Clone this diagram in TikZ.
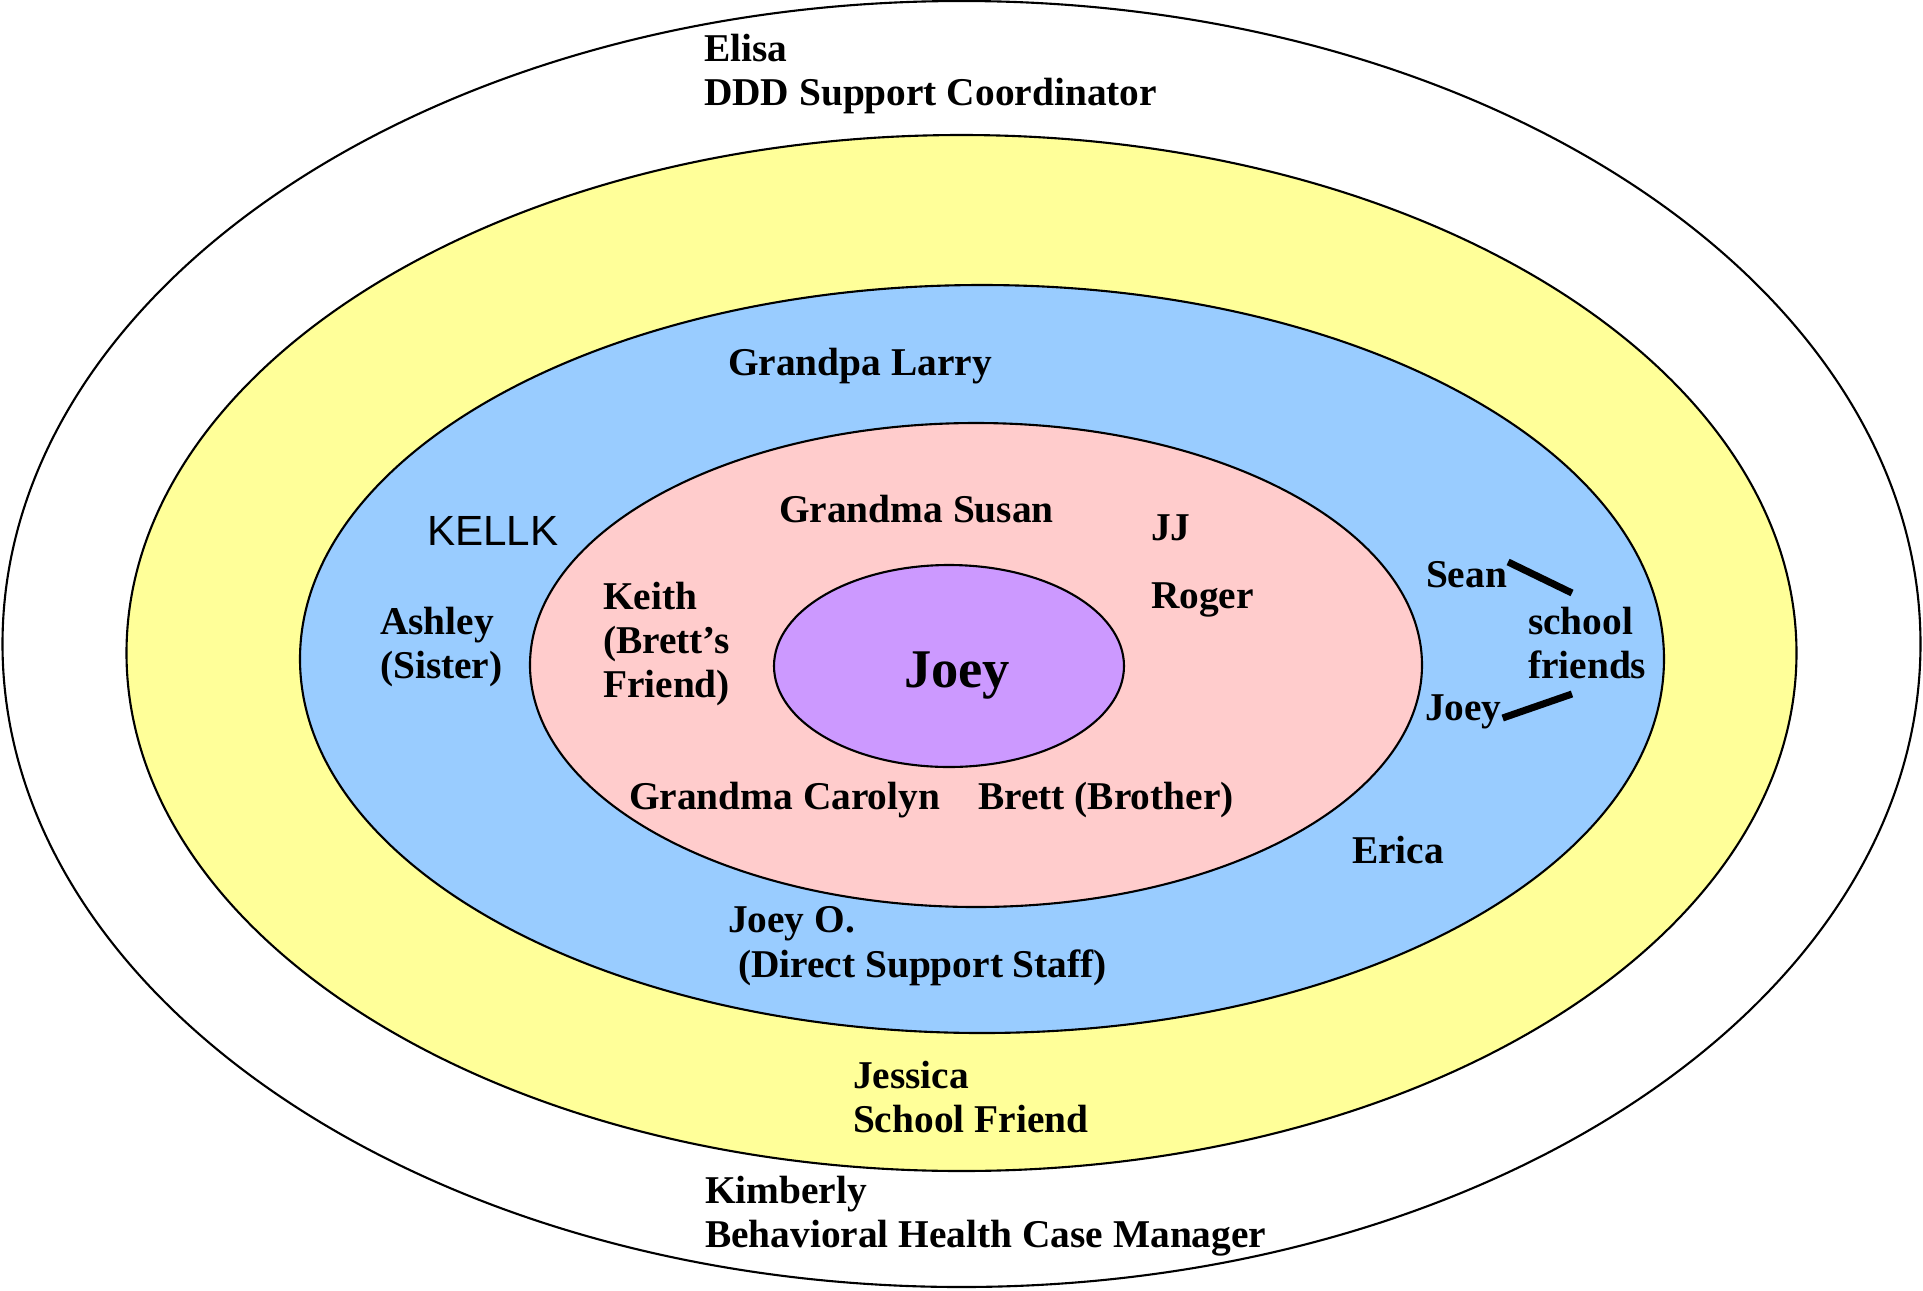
\documentclass[tikz,border=0pt]{standalone}
\usepackage{fontspec}
\setmainfont{Liberation Serif}
\setsansfont{Liberation Sans}
\usepackage{tikz}

\definecolor{outerring}{HTML}{FFFF99}
\definecolor{middlering}{HTML}{99CCFF}
\definecolor{innerring}{HTML}{FFCCCC}
\definecolor{selfring}{HTML}{CC99FF}

\begin{document}
\begin{tikzpicture}[x=0.01cm,y=-0.01cm,line width=0.6pt,
  font=\bfseries\fontsize{11.2}{12.6}\selectfont]
  \tikzstyle{ring}=[draw=black]
  \tikzstyle{person}=[inner sep=0pt,anchor=west,align=left]
  \tikzstyle{tie}=[line width=2pt]

  \useasboundingbox (0,0) rectangle (1923,1290);

  \draw[ring,fill=white]      (961.5,644) ellipse [x radius=959,y radius=643];
  \draw[ring,fill=outerring]  (961.5,653) ellipse [x radius=835,y radius=518];
  \draw[ring,fill=middlering] (982,659)   ellipse [x radius=682,y radius=374];
  \draw[ring,fill=innerring]  (976,665)   ellipse [x radius=446,y radius=242];
  \draw[ring,fill=selfring]   (949,666)   ellipse [x radius=175,y radius=101];

  \node (joey)     at (957,676) {\fontsize{15.5}{18}\selectfont Joey};

  \node[person] (elisa)    at (703,74)    {Elisa\\DDD Support Coordinator};
  \node[person] (larry)    at (727,366)   {Grandpa Larry};
  \node[person,font=\sffamily\fontsize{12}{14}\selectfont]
                (kellk)    at (426,531)   {KELLK};
  \node[person] (susan)    at (778,509)   {Grandma Susan};
  \node[person] (jj)       at (1150,528)  {JJ};
  \node[person] (keith)    at (602,644)   {Keith\\(Brett’s\\Friend)};
  \node[person] (roger)    at (1150,600)  {Roger};
  \node[person] (ashley)   at (379,647)   {Ashley\\(Sister)};
  \node[person] (sean)     at (1425,575)  {Sean};
  \node[person] (friends)  at (1527,643)  {school\\friends};
  \node[person] (joeyb)    at (1424,712)  {Joey};
  \node[person] (carolyn)  at (628,800)   {Grandma Carolyn};
  \node[person] (brett)    at (977,800)   {Brett (Brother)};
  \node[person] (erica)    at (1351,850)  {Erica};
  \node[person] (joeyo)    at (727,946)   {Joey O.\\\hspace{0.1cm}(Direct Support Staff)};
  \node[person] (jessica)  at (852,1097)  {Jessica\\School Friend};
  \node[person] (kimberly) at (704,1216)  {Kimberly\\Behavioral Health Case Manager};

  \coordinate (seantip) at (1572,593);
  \coordinate (joeytip) at (1572,694);
  \draw[tie] ([yshift=0.13cm]sean.east) -- (seantip);
  \draw[tie] ([yshift=-0.06cm]joeyb.east) -- (joeytip);
\end{tikzpicture}
\end{document}
